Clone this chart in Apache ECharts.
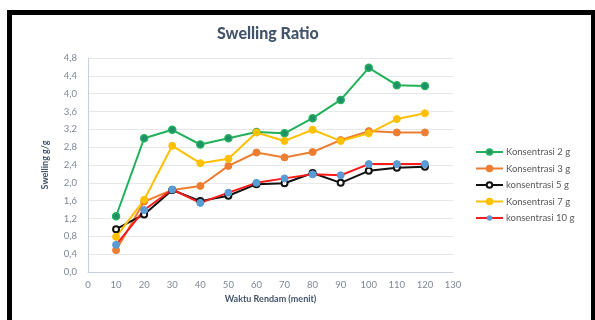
<!DOCTYPE html>
<html><head><meta charset="utf-8">
<script src="https://cdn.jsdelivr.net/npm/echarts@6/dist/echarts.min.js"></script>
<style>html,body{margin:0;padding:0;background:#fff;}#c{width:595px;height:320px;}</style>
</head><body><div id="c"></div>
<script>
const xValues = [10,20,30,40,50,60,70,80,90,100,110,120];
const conc2  = [1.25,3.00,3.19,2.86,3.00,3.14,3.11,3.45,3.86,4.58,4.19,4.17];
const conc3  = [0.49,1.58,1.84,1.93,2.38,2.68,2.57,2.69,2.96,3.16,3.13,3.13];
const conc5  = [0.96,1.29,1.84,1.59,1.71,1.97,1.99,2.22,2.00,2.27,2.34,2.36];
const conc7  = [0.79,1.62,2.83,2.44,2.54,3.13,2.94,3.19,2.94,3.11,3.43,3.56];
const conc10 = [0.61,1.39,1.85,1.55,1.78,2.00,2.10,2.19,2.17,2.42,2.42,2.42];
const seriesNames = ['Konsentrasi 2 g','Konsentrasi 3 g','konsentrasi 5 g','Konsentrasi 7 g','konsentrasi 10 g'];
const title = 'Swelling Ratio';
const xName = 'Waktu Rendam (menit)';
const yName = 'Swelling g/g';

const pair = arr => xValues.map((x,i)=>[x,arr[i]]);
const font = 'Lato, "Open Sans", sans-serif';

const mk = (name, data, lineColor, symColor, opts={}) => Object.assign({
  name, type:'line', data: pair(data), symbol:'circle', symbolSize:7,
  lineStyle:{color:lineColor,width:2,type:'solid'},
  itemStyle:{color:symColor,borderColor:symColor,borderWidth:1},
  z: 2
}, opts);

const chart = echarts.init(document.getElementById('c'), null, {renderer:'canvas'});
chart.setOption({
  animation:false,
  backgroundColor:'#fff',
  title:{text:title,left:212,top:21,textStyle:{fontFamily:font,fontSize:16,fontWeight:900,color:'#44546a'}},
  grid:{left:88,right:142,top:58,bottom:48},
  xAxis:{type:'value',min:0,max:130,interval:10,
    name:xName,nameLocation:'middle',nameGap:22,
    nameTextStyle:{fontFamily:font,fontSize:9,fontWeight:'bold',color:'#44546a'},
    axisLine:{show:true,lineStyle:{color:'#c9d0da'}},axisTick:{show:false},
    axisLabel:{fontFamily:font,fontSize:9.5,color:'#7f8894',margin:8},
    splitLine:{show:false}},
  yAxis:{type:'value',min:0,max:4.8,interval:0.4,
    name:yName,nameLocation:'middle',nameGap:38,nameRotate:90,
    nameTextStyle:{fontFamily:'"Liberation Sans Narrow", Lato, sans-serif',fontSize:9,fontWeight:'bold',color:'#44546a'},
    axisLine:{show:true,lineStyle:{color:'#c9d0da'}},axisTick:{show:false},
    axisLabel:{fontFamily:font,fontSize:9.5,color:'#7f8894',margin:11,formatter:v=>v.toFixed(1).replace('.',',')},
    splitLine:{lineStyle:{color:'#e6e8ec',width:1}}},
  legend:{orient:'vertical',left:470,top:142,itemGap:6.5,itemWidth:27,itemHeight:7,
    textStyle:{fontFamily:font,fontSize:9.5,color:'#595959',padding:[0,0,0,-2]},
    data:seriesNames},
  graphic:[{type:'rect',shape:{x:9.5,y:12.5,width:584,height:330},
    style:{fill:'none',stroke:'#000',lineWidth:5},silent:true}],
  series:[
    mk(seriesNames[0],conc2,'#22b05a','#1f9a5a',{itemStyle:{color:'#1e8f6a',borderColor:'#22b05a',borderWidth:1.5}}),
    mk(seriesNames[1],conc3,'#ed7d31','#ed7d31'),
    mk(seriesNames[2],conc5,'#111111','#ffffff',{symbolSize:6,itemStyle:{color:'#ffffff',borderColor:'#111111',borderWidth:2}}),
    mk(seriesNames[3],conc7,'#ffc000','#ffc000'),
    mk(seriesNames[4],conc10,'#ff1a1a','#5b9bd5',{itemStyle:{color:'#5b9bd5',borderColor:'#5b9bd5'}})
  ]
});
</script></body></html>
